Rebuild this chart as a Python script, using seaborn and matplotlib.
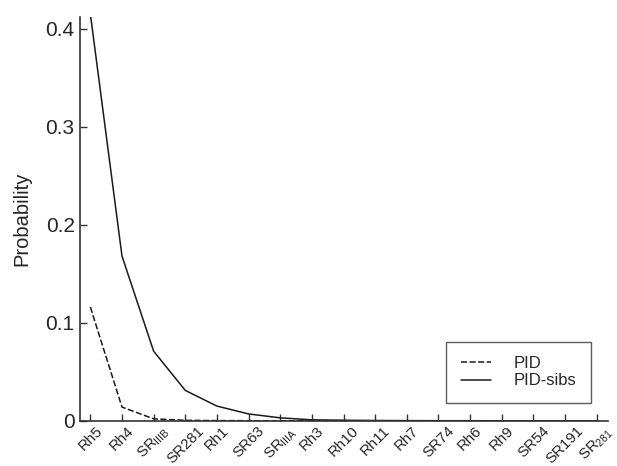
"""Probability of identity per locus (PID and PID-sibs)."""

import matplotlib
matplotlib.use("Agg")
import matplotlib.pyplot as plt
import pandas as pd
import seaborn as sns

loci = [
    "Rh5", "Rh4", r"SR$_{\mathrm{IIIB}}$", "SR281", "Rh1", "SR63",
    r"SR$_{\mathrm{IIIA}}$", "Rh3", "Rh10", "Rh11", "Rh7", "SR74",
    "Rh6", "Rh9", "SR54", "SR191", r"SR$_{\mathrm{281}}$",
]
pid = [0.116, 0.014, 0.002, 0.0005, 0.0002, 0.0001, 0.0, 0.0, 0.0,
       0.0, 0.0, 0.0, 0.0, 0.0, 0.0, 0.0, 0.0]
pid_sibs = [0.415, 0.168, 0.071, 0.031, 0.015, 0.007, 0.003, 0.001,
            0.0006, 0.0003, 0.0002, 0.0001, 0.0001, 0.0, 0.0, 0.0, 0.0]

pos = list(range(len(loci)))
df = pd.DataFrame({
    "pos": pos * 2,
    "prob": pid + pid_sibs,
    "series": ["PID"] * len(loci) + ["PID-sibs"] * len(loci),
})

sns.set_style("ticks")
plt.rcParams["font.family"] = ["Liberation Sans", "DejaVu Sans"]
plt.rcParams["mathtext.fontset"] = "custom"
plt.rcParams["mathtext.rm"] = "Liberation Sans"

fig = plt.figure(figsize=(6.17, 4.66), dpi=100)
ax = fig.add_axes([0.130, 0.097, 0.855, 0.867])

sns.lineplot(
    data=df, x="pos", y="prob", style="series",
    dashes={"PID": (4, 1.6), "PID-sibs": ""},
    color="#1a1a1a", linewidth=1.1, ax=ax, legend=False,
)

ax.set_xlim(-0.32, 16.35)
ax.set_ylim(0, 0.412)
ax.set_xticks(pos)
ax.set_xticklabels(loci, rotation=45, ha="center", fontsize=10.8)
ax.set_yticks([0, 0.1, 0.2, 0.3, 0.4])
ax.set_yticklabels(["0", "0.1", "0.2", "0.3", "0.4"], fontsize=15)
ax.tick_params(direction="in", length=5, width=1, color="#333333")
ax.tick_params(axis="x", pad=2)
ax.tick_params(axis="y", pad=4)
ax.set_xlabel("")
ax.set_ylabel("Probability", fontsize=14.5, labelpad=10)

sns.despine(ax=ax)
for side in ("left", "bottom"):
    ax.spines[side].set_color("#333333")
    ax.spines[side].set_linewidth(1.2)

# legend: one handle per series, square box in the lower right
handles = ax.get_lines()[:2]
leg = ax.legend(
    handles, ["PID", "PID-sibs"], loc="lower right",
    bbox_to_anchor=(0.968, 0.045), fontsize=12, frameon=True,
    fancybox=False, handlelength=1.8, borderpad=0.85, handletextpad=1.4,
    borderaxespad=0, labelspacing=0.15,
)
leg.get_frame().set_edgecolor("#333333")
leg.get_frame().set_linewidth(1.0)

fig.savefig("out.png", dpi=100)
